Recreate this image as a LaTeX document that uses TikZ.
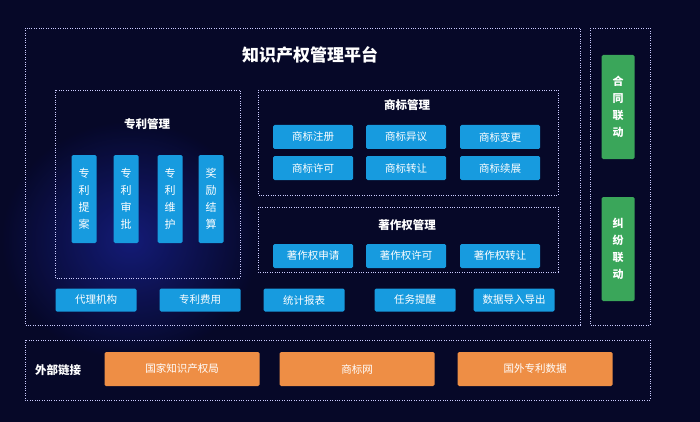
\documentclass[tikz,border=0pt]{standalone}
\usepackage{fontspec}
\setmainfont{Noto Sans CJK SC}
\begin{document}
\begin{tikzpicture}[x=1pt,y=-1pt,
  frame/.style={draw=white!80!blue, dash pattern=on 0.8pt off 1.6pt, line width=0.9pt},
  blue btn/.style={fill=btnblue, text=white, rounded corners=1.5pt, font=\fontsize{10.5}{11}\selectfont, inner sep=0pt},
  orange btn/.style={fill=btnorange, text=white, rounded corners=1.5pt, font=\fontsize{10.5}{11}\selectfont, inner sep=0pt, minimum width=155pt, minimum height=34pt},
  green btn/.style={fill=btngreen, text=white, rounded corners=1.5pt, font=\bfseries\fontsize{11}{17}\selectfont, inner sep=0pt, minimum width=33pt, minimum height=104pt, align=center},
  ttl/.style={text=white, font=\bfseries\fontsize{11.5}{12}\selectfont}]
\definecolor{bg1}{HTML}{060828}
\definecolor{bg2}{HTML}{17208A}
\definecolor{btnblue}{HTML}{179BDF}
\definecolor{btnorange}{HTML}{EE8E45}
\definecolor{btngreen}{HTML}{3AA65A}
\fill[bg1] (0,0) rectangle (700,422);
\shade[inner color=bg2, outer color=bg1, opacity=0.8] (0,120) rectangle (260,360);
\useasboundingbox (0,0) rectangle (700,422);
% frames
\draw[frame] (25,28) rectangle (580,325);
\draw[frame] (55,90) rectangle (240,278);
\draw[frame] (258,90) rectangle (558,195);
\draw[frame] (258,207) rectangle (558,272);
\draw[frame] (590,28) rectangle (650,325);
\draw[frame] (25,340) rectangle (650,400);
\node[text=white, font=\bfseries\fontsize{17}{18}\selectfont] (title) at (310,55) {知识产权管理平台};
\node[ttl] (pt) at (147,124) {专利管理};
\node[ttl] (tm) at (407,105) {商标管理};
\node[ttl] (cr) at (407,225) {著作权管理};
% patent verticals
\foreach \n/\x/\t in {p1/84/专\\利\\提\\案, p2/126/专\\利\\审\\批, p3/170/专\\利\\维\\护, p4/211/奖\\励\\结\\算}
  \node[blue btn, minimum width=25pt, minimum height=88pt, align=center, font=\fontsize{11}{17}\selectfont] (\n) at (\x,199) {\t};
% trademark
\foreach \n/\x/\y/\t in {t1/313/137/商标注册, t2/406/137/商标异议, t3/500/137/商标变更, t4/313/168/商标许可, t5/406/168/商标转让, t6/500/168/商标续展, c1/313/256/著作权申请, c2/406/256/著作权许可, c3/500/256/著作权转让}
  \node[blue btn, minimum width=80pt, minimum height=24pt] (\n) at (\x,\y) {\t};
% bottom row
\foreach \n/\x/\t in {b1/96/代理机构, b2/200/专利费用, b3/304/统计报表, b4/415/任务提醒, b5/514/数据导入导出}
  \node[blue btn, minimum width=81pt, minimum height=23pt] (\n) at (\x,300) {\t};
% right
\node[green btn] (g1) at (618,107) {合\\同\\联\\动};
\node[green btn] (g2) at (618,249) {纠\\纷\\联\\动};
% external
\node[text=white, font=\bfseries\fontsize{11.5}{12}\selectfont] (ext) at (58,370) {外部链接};
\node[orange btn] (o1) at (182,369) {国家知识产权局};
\node[orange btn] (o2) at (357,369) {商标网};
\node[orange btn] (o3) at (535,369) {国外专利数据};
\end{tikzpicture}
\end{document}
